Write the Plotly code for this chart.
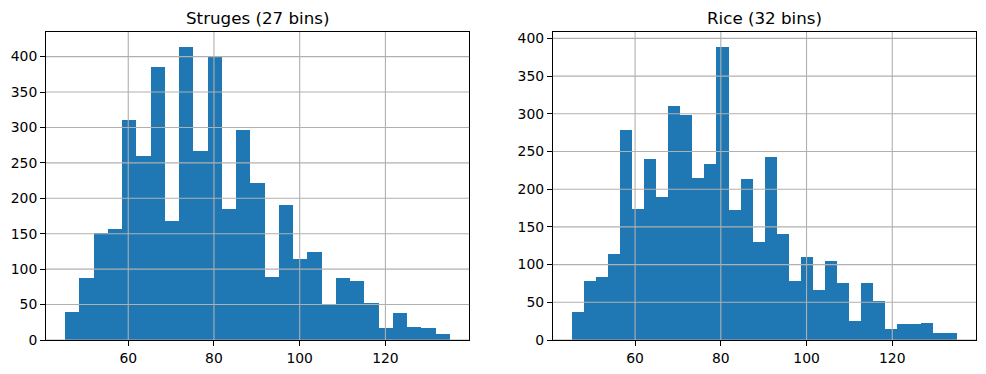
import numpy as np
import plotly.graph_objects as go
from plotly.subplots import make_subplots

# Data
data_min = 45.3
data_max = 135.05
sturges_counts = [40, 88, 151, 156, 311, 260, 386, 168, 414, 267, 399, 185, 296, 221,
                  89, 190, 115, 124, 49, 88, 83, 52, 17, 38, 18, 17, 8]
rice_counts = [37, 78, 84, 114, 278, 174, 240, 190, 310, 298, 215, 233, 389, 173, 213,
               130, 243, 141, 78, 110, 66, 105, 76, 25, 76, 52, 15, 21, 21, 23, 9, 9]
titles = ["Struges (27 bins)", "Rice (32 bins)"]
x_ticks = [60, 80, 100, 120]
y_ticks = [0, 50, 100, 150, 200, 250, 300, 350, 400]

BLUE = "#1f77b4"
GRID = "#b0b0b0"
FONT = "DejaVu Sans"

fig = make_subplots(rows=1, cols=2, horizontal_spacing=0.09, subplot_titles=titles)

span = data_max - data_min
for i, counts in enumerate([sturges_counts, rice_counts], start=1):
    n = len(counts)
    edges = np.linspace(data_min, data_max, n + 1)
    centers = (edges[:-1] + edges[1:]) / 2
    width = edges[1] - edges[0]
    fig.add_trace(go.Bar(x=centers, y=counts, width=width, marker=dict(color=BLUE, line=dict(width=0)),
                         showlegend=False, hoverinfo="x+y"), row=1, col=i)
    fig.update_xaxes(range=[data_min - 0.05 * span, data_max + 0.05 * span], tickvals=x_ticks,
                     row=1, col=i)
    fig.update_yaxes(range=[0, max(counts) * 1.05], tickvals=y_ticks, row=1, col=i)
    xr = "x" if i == 1 else "x2"
    yr = "y" if i == 1 else "y2"
    # gridlines drawn above bars, as in the reference
    for t in x_ticks:
        fig.add_shape(type="line", xref=xr, yref=yr + " domain", x0=t, x1=t, y0=0, y1=1,
                      line=dict(color=GRID, width=1.1), layer="above")
    for t in y_ticks:
        fig.add_shape(type="line", xref=xr + " domain", yref=yr, x0=0, x1=1, y0=t, y1=t,
                      line=dict(color=GRID, width=1.1), layer="above")

fig.update_xaxes(domain=[0, 0.455], row=1, col=1)
fig.update_xaxes(domain=[0.545, 1.0], row=1, col=2)

axis_style = dict(showgrid=False, zeroline=False, showline=True, linecolor="black", linewidth=1.1,
                  mirror=True, ticks="outside", ticklen=4.9, tickwidth=1.1, tickcolor="black",
                  tickfont=dict(family=FONT, size=13.9, color="black"), layer="above traces",
                  automargin=False)
fig.update_xaxes(**axis_style)
fig.update_yaxes(**axis_style)

for ann in fig.layout.annotations:
    ann.font = dict(family=FONT, size=16.7, color="black")
    ann.yshift = 2

# the page body has an 8px margin, so the figure is sized and offset to compensate
fig.update_layout(width=978, height=366, margin=dict(l=38, r=10, t=24, b=34),
                  paper_bgcolor="white", plot_bgcolor="white", bargap=0,
                  font=dict(family=FONT, color="black"))

fig.write_html("out.html")
